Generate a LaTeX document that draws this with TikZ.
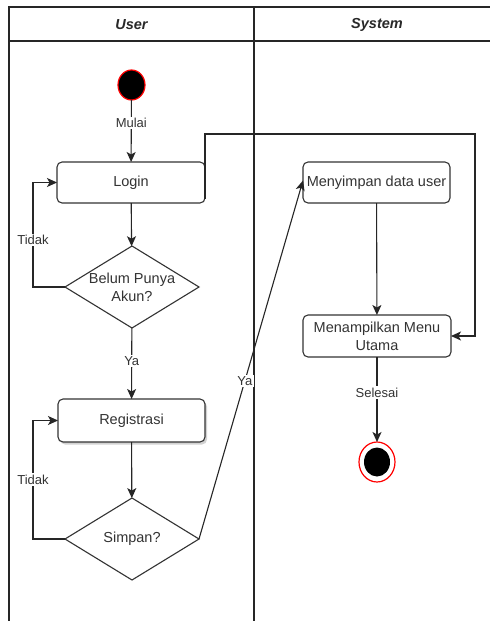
\documentclass[tikz,border=0pt]{standalone}
\usepackage{fontspec}
\setmainfont{Liberation Sans}
\usetikzlibrary{arrows.meta,shapes.geometric,shadows}
\definecolor{ink}{HTML}{333333}
\tikzset{
  every picture/.style={x=1pt,y=-1pt},
  lane/.style={draw=black!85,line width=1.2pt},
  act/.style={draw=ink,line width=1.1pt,rounded corners=5pt,fill=white,
    text=ink,align=center,inner sep=0pt,outer sep=0pt,
    font=\fontsize{14.5}{18}\selectfont},
  decision/.style={diamond,draw=ink,line width=1.1pt,fill=white,
    inner sep=0pt,outer sep=0pt,aspect=1.63},
  dtext/.style={text=ink,align=center,inner sep=0pt,
    font=\fontsize{14.5}{18}\selectfont},
  lbl/.style={fill=white,text=ink,inner sep=1.5pt,
    font=\fontsize{13}{15}\selectfont},
  head/.style={text=ink!80!black,font=\fontsize{14.5}{17}\selectfont\bfseries\itshape},
  arr/.style={draw=black!85,line width=1.1pt,
    -{Stealth[length=10pt,width=9pt,inset=2.5pt]}},
  startnode/.style={ellipse,fill=black,draw=red,line width=1.2pt,
    minimum width=27pt,minimum height=30pt,inner sep=0pt,outer sep=0pt},
}
\begin{document}
\begin{tikzpicture}
\useasboundingbox (0,0) rectangle (490,621);
\fill[white] (0,0) rectangle (490,621);

% swimlanes
\draw[lane] (9,621) -- (9,7) -- (490,7);
\draw[lane] (9,41) -- (490,41);
\draw[lane] (254,7) -- (254,621);
\node[head] (hUser) at (131.5,25) {User};
\node[head] (hSystem) at (377,25) {System};

% user lane
\node[startnode] (start) at (131.5,85) {};
\node[act,minimum width=148pt,minimum height=41pt] (login) at (131,182.5) {Login};
\node[decision,minimum width=134pt,minimum height=82pt] (d1) at (132,287) {};
\node[dtext] (d1t) at (d1) {Belum Punya\\Akun?};
\node[act,minimum width=147pt,minimum height=43pt,
  drop shadow={shadow xshift=2pt,shadow yshift=-2.5pt,opacity=0.35}] (reg) at (131.5,420.5) {Registrasi};
\node[decision,minimum width=134pt,minimum height=82pt] (d2) at (132,539) {};
\node[dtext] (d2t) at (d2) {Simpan?};

% system lane
\node[act,minimum width=147pt,minimum height=41pt] (save) at (376.5,182.5) {Menyimpan data user};
\node[act,minimum width=148pt,minimum height=42pt] (menu) at (377,336) {Menampilkan Menu\\Utama};
\node[ellipse,draw=red,line width=1.2pt,fill=white,minimum width=36pt,
  minimum height=40pt,inner sep=0pt,outer sep=0pt] (finish) at (377,462) {};
\node[ellipse,fill=black,minimum width=26pt,minimum height=29pt,inner sep=0pt] (finishdot) at (finish) {};

\coordinate (turn) at (475,134);

% flows
\draw[arr] (start) -- node[lbl,pos=0.37] {Mulai} (login);
\draw[arr] (login) -- (d1);
\draw[arr] (d1.west) -- ++(-32,0) |- node[lbl,pos=0.225] {Tidak} (login.west);
\draw[arr] (d1) -- node[lbl,pos=0.46] {Ya} (reg);
\draw[arr] (reg) -- (d2);
\draw[arr] (d2.west) -- ++(-32,0) |- node[lbl,pos=0.25] {Tidak} (reg.west);
\draw[arr] (d2.east) -- node[lbl,pos=0.44] {Ya} ([yshift=2pt]save.west);
\draw[arr] ([yshift=-16pt]login.east) |- (turn) |- (menu.east);
\draw[arr] (save) -- (menu);
\draw[arr] (menu) -- node[lbl,pos=0.42] {Selesai} (finish);
\end{tikzpicture}
\end{document}
